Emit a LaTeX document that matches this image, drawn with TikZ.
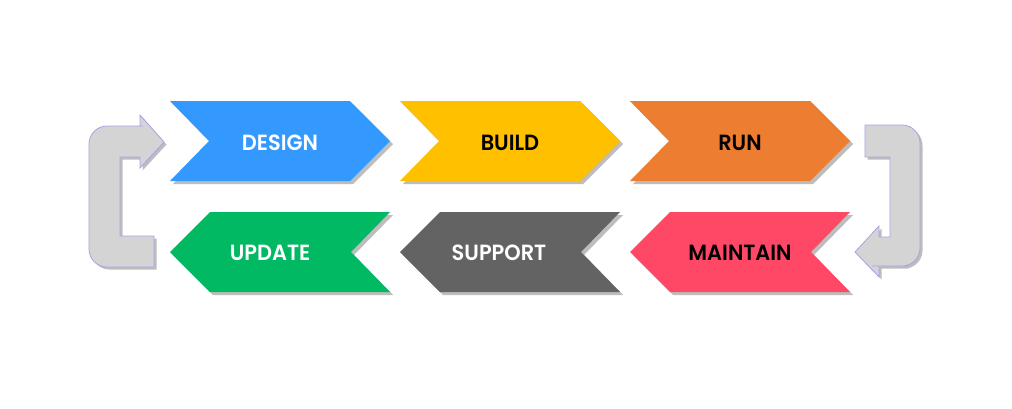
\documentclass[tikz,border=0pt]{standalone}
\usepackage{fontspec}
\setmainfont{Poppins}[BoldFont={Poppins SemiBold}]
\usetikzlibrary{shadows}
\definecolor{cdesign}{HTML}{3399FF}
\definecolor{cbuild}{HTML}{FFC000}
\definecolor{crun}{HTML}{ED7D31}
\definecolor{cupdate}{HTML}{00B962}
\definecolor{csupport}{HTML}{636363}
\definecolor{cmaintain}{HTML}{FF4866}
\definecolor{carrow}{HTML}{D4D4D4}
\definecolor{cedge}{HTML}{B49CEB}
\definecolor{cshadow}{HTML}{BDBDBD}
\tikzset{
  chev/.style={draw=none, drop shadow={shadow xshift=3pt, shadow yshift=-3pt, fill=cshadow, opacity=1}},
  lbl/.style={font=\fontsize{22}{24}\selectfont\bfseries, inner sep=0pt, xscale=0.95},
  loop/.style={fill=carrow, draw=cedge, line width=0.8pt, drop shadow={shadow xshift=2.5pt, shadow yshift=-2.5pt, fill=cshadow, opacity=1}}
}
\begin{document}
\begin{tikzpicture}[x=1pt,y=-1pt]
\useasboundingbox (0,0) rectangle (1012,408);
\fill[white] (0,0) rectangle (1012,408);
% top row (right-pointing)
\foreach \L/\c in {170/cdesign,400/cbuild,630/crun}{
  \path[chev, fill=\c] (\L,101) -- (\L+180,101) -- (\L+220,141) -- (\L+180,181) -- (\L,181) -- (\L+39,141) -- cycle;
}
% bottom row (left-pointing)
\foreach \L/\c in {170/cupdate,400/csupport,630/cmaintain}{
  \path[chev, fill=\c] (\L+40,212) -- (\L+220,212) -- (\L+181,252) -- (\L+220,292) -- (\L+40,292) -- (\L,252) -- cycle;
}
\node[lbl, text=white] (design) at (280,143) {DESIGN};
\node[lbl, text=black] (build) at (510,143) {BUILD};
\node[lbl, text=black] (run) at (740,143) {RUN};
\node[lbl, text=white] (update) at (270,253) {UPDATE};
\node[lbl, text=white] (support) at (499,253) {SUPPORT};
\node[lbl, text=black] (maintain) at (740,253) {MAINTAIN};
% left loop arrow
\path[loop] (154,236) -- (154,267) -- (130,267) [rounded corners=18pt] -- (89,267) -- (89,126) -- (125,126) [sharp corners] -- (140,126) -- (140,115) -- (164,142) -- (140,168) -- (140,157) -- (120,157) -- (120,236) -- cycle;
% right loop arrow
\path[loop] (865,125) -- (880,125) [rounded corners=18pt] -- (920,125) -- (920,266) -- (890,266) [sharp corners] -- (879,266) -- (879,277) -- (855,252) -- (879,226) -- (879,237) -- (890,237) -- (890,157) -- (865,157) -- cycle;
\end{tikzpicture}
\end{document}
